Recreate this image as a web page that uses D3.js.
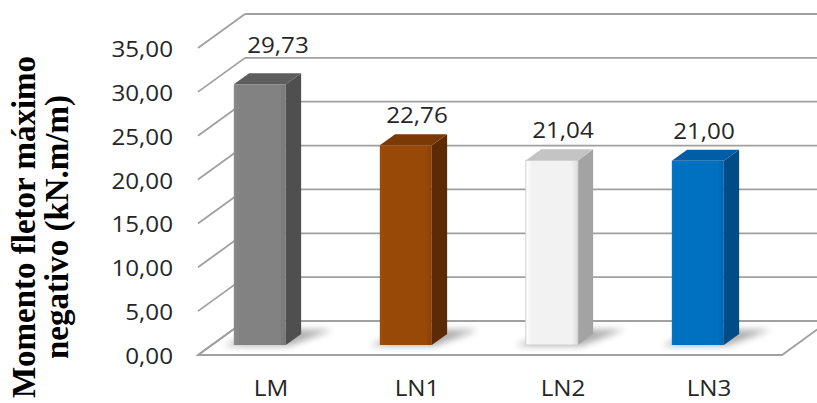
<!DOCTYPE html>
<html>
<head>
<meta charset="utf-8">
<script src="https://cdn.jsdelivr.net/npm/d3@7/dist/d3.min.js"></script>
<style>
  html, body { margin: 0; padding: 0; background: #ffffff; }
  svg { display: block; }
</style>
</head>
<body>
<svg id="chart" width="817" height="403"></svg>
<script>
// Values
const categories = ["LM", "LN1", "LN2", "LN3"];
const values = [29.73, 22.76, 21.04, 21.00];
const tickValues = [0, 5, 10, 15, 20, 25, 30, 35];
const titleLines = ["Momento fletor máximo", "negativo (kN.m/m)"];

// Bar colours: front, side, top
const frontColors = ["#828282", "#984807", "#f2f2f2", "#0070c0"];
const sideColors = ["#4f4f4f", "#5c2b04", "#a3a3a3", "#004c87"];
const topColors = ["#5d5d5d", "#7a3905", "#c4c4c4", "#005da6"];

const svg = d3.select("#chart");
const W = 817, H = 403;

const ptBR = d3.formatLocale({ decimal: ",", thousands: ".", grouping: [3], currency: ["R$", ""] });
const fmt = ptBR.format(".2f");

// Front plane of the 3D box
const x = d3.scaleBand().domain(categories).range([198, 782]).paddingInner(0).paddingOuter(0);
const yFront = d3.scaleLinear().domain([0, 35]).range([355, 48]);
const DX = 47, DY = -34;             // full depth offset of the box
const BAR_D0 = 0.294, BAR_D1 = 0.62; // bar front/back depth fractions
const BAR_OFF = 22, BAR_W = 52;

function P(px, v, d) { return [px + DX * d, yFront(v) + DY * d]; }
function poly(pts) { return "M" + pts.map(p => p.join(",")).join("L") + "Z"; }

const defs = svg.append("defs");
const blur = defs.append("filter").attr("id", "soft").attr("x", "-50%").attr("y", "-50%").attr("width", "200%").attr("height", "200%");
blur.append("feGaussianBlur").attr("stdDeviation", 3.5);

frontColors.forEach((c, i) => {
  const g = defs.append("linearGradient").attr("id", "fg" + i).attr("x1", 0).attr("x2", 1).attr("y1", 0).attr("y2", 0);
  const base = d3.color(c);
  g.append("stop").attr("offset", 0).attr("stop-color", base.brighter(0.15));
  g.append("stop").attr("offset", 0.12).attr("stop-color", base);
  g.append("stop").attr("offset", 0.88).attr("stop-color", base);
  g.append("stop").attr("offset", 1).attr("stop-color", base.darker(0.25));
});

const gridColor = "#a0a0a0";
const grid = svg.append("g").attr("fill", "none").attr("stroke", gridColor).attr("stroke-width", 1.8);

// Floor
const x0 = x.range()[0], x1 = x.range()[1];
grid.append("path").attr("d", poly([P(x0, 0, 0), P(x1, 0, 0), P(x1, 0, 1), P(x0, 0, 1)]))
  .attr("fill", "#ffffff");

// Back-wall gridlines and side-wall diagonals
tickValues.forEach(v => {
  const a = P(x0, v, 1);
  grid.append("line").attr("x1", a[0]).attr("y1", a[1]).attr("x2", W + 20).attr("y2", a[1]);
  const f = P(x0, v, 0);
  grid.append("line").attr("x1", f[0]).attr("y1", f[1]).attr("x2", a[0]).attr("y2", a[1]);
});

// Tick labels
const tickG = svg.append("g")
  .attr("font-family", "'Open Sans', 'Noto Sans', sans-serif")
  .attr("font-size", 22).attr("fill", "#262626");
tickValues.forEach(v => {
  tickG.append("text")
    .attr("transform", `translate(173,${yFront(v) + 9}) scale(1.1,1)`)
    .attr("text-anchor", "end")
    .text(fmt(v));
});

// Bars
const bars = svg.append("g");
categories.forEach((c, i) => {
  const v = values[i];
  const bx = x(c) + BAR_OFF;
  const g = bars.append("g");
  // soft shadow cast back-right onto the floor
  g.append("path")
    .attr("d", poly([P(bx - 10, 0, BAR_D0 - 0.02), P(bx + BAR_W + 4, 0, BAR_D0 - 0.02), P(bx + BAR_W + 26, 0, BAR_D1 + 0.12), P(bx + 12, 0, BAR_D1 + 0.12)]))
    .attr("fill", "#000").attr("opacity", 0.32).attr("filter", "url(#soft)");
  // side face
  g.append("path")
    .attr("d", poly([P(bx + BAR_W, v, BAR_D0), P(bx + BAR_W, v, BAR_D1), P(bx + BAR_W, 0, BAR_D1), P(bx + BAR_W, 0, BAR_D0)]))
    .attr("fill", sideColors[i]);
  // top face
  g.append("path")
    .attr("d", poly([P(bx, v, BAR_D0), P(bx + BAR_W, v, BAR_D0), P(bx + BAR_W, v, BAR_D1), P(bx, v, BAR_D1)]))
    .attr("fill", topColors[i]);
  // front face
  const ft = P(bx, v, BAR_D0), fb = P(bx + BAR_W, 0, BAR_D0);
  g.append("rect")
    .attr("x", ft[0]).attr("y", ft[1])
    .attr("width", fb[0] - ft[0]).attr("height", fb[1] - ft[1])
    .attr("fill", `url(#fg${i})`)
    .attr("stroke", i === 2 ? "#d0d0d0" : "none").attr("stroke-width", 1);
});

// Value labels, centred over each category
const labelNudge = { LM: [7, -9], LN3: [-5, 0] };
const valG = svg.append("g")
  .attr("font-family", "'Open Sans', 'Noto Sans', sans-serif")
  .attr("font-size", 22).attr("fill", "#262626");
categories.forEach((c, i) => {
  const p = P(x(c) + x.bandwidth() / 2, values[i], BAR_D0);
  const n = labelNudge[c] || [0, 0];
  valG.append("text")
    .attr("transform", `translate(${p[0] - DX * BAR_D0 + n[0]},${p[1] - 22 + n[1]}) scale(1.1,1)`)
    .attr("text-anchor", "middle")
    .text(fmt(values[i]));
});

// Category labels
const catG = svg.append("g")
  .attr("font-family", "'Open Sans', 'Noto Sans', sans-serif")
  .attr("font-size", 22).attr("fill", "#262626");
categories.forEach(c => {
  catG.append("text")
    .attr("transform", `translate(${x(c) + x.bandwidth() / 2},396) scale(1.1,1)`)
    .attr("text-anchor", "middle")
    .text(c);
});

// Axis title
const titleG = svg.append("g")
  .attr("font-family", "'Liberation Serif', 'Times New Roman', serif")
  .attr("font-weight", "bold").attr("font-size", 33).attr("fill", "#000");
titleLines.forEach((t, i) => {
  titleG.append("text")
    .attr("transform", `translate(${35 + i * 33},227) rotate(-90)`)
    .attr("text-anchor", "middle")
    .text(t);
});
</script>
</body>
</html>
